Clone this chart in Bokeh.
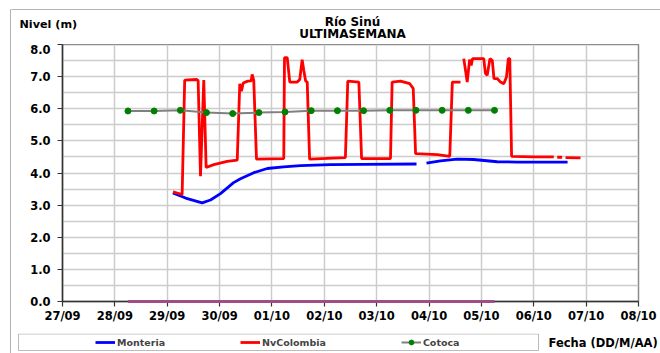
import numpy as np
import pandas as pd
from bokeh.plotting import figure
from bokeh.layouts import row, column
from bokeh.models import (Range1d, FixedTicker, Label, Legend, LegendItem,
                          BoxAnnotation, ColumnDataSource)
from bokeh.embed import file_html
from bokeh.resources import INLINE

YEAR = "2011"

# Nivel (m) - estación Montería
monteria_time = [
    "09-29 02:35", "09-29 08:25", "09-29 16:00", "09-29 19:50", "09-30 00:25",
    "09-30 06:25", "09-30 09:35", "09-30 15:40", "09-30 21:50", "10-01 05:20",
    "10-01 13:05", "10-02 02:50", "10-02 18:00", "10-03 18:15", "10-03 20:30",
    "10-03 22:50", "10-04 05:15", "10-04 12:55", "10-04 20:25", "10-05 07:15",
    "10-05 16:25", "10-06 15:30",
]
monteria_level = [
    3.38, 3.22, 3.07, 3.16, 3.36,
    3.70, 3.82, 4.01, 4.14, 4.19,
    4.23, 4.26, 4.27, 4.28, np.nan,
    4.31, 4.38, 4.43, 4.42, 4.35,
    4.34, 4.34,
]

# Nivel (m) - estación NvColombia
nvcolombia_time = [
    "09-29 02:40", "09-29 06:50", "09-29 08:00", "09-29 13:25", "09-29 14:10",
    "09-29 15:15", "09-29 16:45", "09-29 17:50", "09-29 21:20", "09-30 03:30",
    "09-30 08:05", "09-30 09:15", "09-30 10:00", "09-30 10:50", "09-30 12:55",
    "09-30 14:30", "09-30 14:55", "09-30 15:40", "09-30 16:55", "10-01 05:25",
    "10-01 05:45", "10-01 07:00", "10-01 08:10", "10-01 11:35", "10-01 12:45",
    "10-01 13:50", "10-01 14:35", "10-01 15:25", "10-01 16:10", "10-01 17:15",
    "10-02 09:40", "10-02 10:45", "10-02 15:50", "10-02 17:05", "10-03 06:20",
    "10-03 07:05", "10-03 10:55", "10-03 15:10", "10-03 16:45", "10-03 17:50",
    "10-04 03:50", "10-04 09:30", "10-04 10:40", "10-04 14:25", "10-04 15:10",
    "10-04 15:55", "10-04 17:30", "10-04 18:35", "10-04 19:20", "10-04 19:55",
    "10-05 01:05", "10-05 01:50", "10-05 02:40", "10-05 03:55", "10-05 05:00",
    "10-05 05:45", "10-05 07:15", "10-05 08:45", "10-05 10:15", "10-05 11:30",
    "10-05 12:20", "10-05 13:00", "10-05 13:50", "10-06 00:00", "10-06 09:10",
    "10-06 10:00", "10-06 10:45", "10-06 13:00", "10-06 13:45", "10-06 14:35",
    "10-06 21:25",
]
nvcolombia_level = [
    3.41, 3.33, 6.89, 6.91, 6.88,
    3.90, 6.89, 4.17, 4.26, 4.36,
    4.40, 6.78, 6.55, 6.80, 6.86,
    6.87, 7.07, 6.88, 4.43, 4.45,
    7.59, 7.59, 6.83, 6.83, 6.91,
    7.53, 7.20, 6.87, 6.83, 4.43,
    4.48, 6.86, 6.83, 4.45, 4.45,
    6.83, 6.86, 6.78, 6.63, 4.60,
    4.57, 4.52, 6.83, 6.83, np.nan,
    7.56, 6.83, 7.53, 7.35, 7.56,
    7.56, 7.10, 7.04, 7.56, 7.50,
    6.94, 6.94, 6.83, 6.78, 6.99,
    7.56, 7.56, 4.52, 4.50, 4.50,
    np.nan, 4.49, 4.49, np.nan, 4.48,
    4.47,
]

# Nivel (m) - estación Cotoca (cada 12 horas)
cotoca_time = [
    "09-28 06:00", "09-28 18:00", "09-29 06:00", "09-29 18:00", "09-30 06:00",
    "09-30 18:00", "10-01 06:00", "10-01 18:00", "10-02 06:00", "10-02 18:00",
    "10-03 06:00", "10-03 18:00", "10-04 06:00", "10-04 18:00", "10-05 06:00",
]
cotoca_level = [
    5.93, 5.93, 5.95, 5.88, 5.85,
    5.88, 5.90, 5.94, 5.94, 5.94,
    5.95, 5.95, 5.95, 5.95, 5.95,
]
# serie auxiliar en cero
serie_cero = [0.0] * 15

x_tick_dates = ["09-27", "09-28", "09-29", "09-30", "10-01", "10-02",
                "10-03", "10-04", "10-05", "10-06", "10-07", "10-08"]
x_tick_labels = ["27/09", "28/09", "29/09", "30/09", "01/10", "02/10",
                 "03/10", "04/10", "05/10", "06/10", "07/10", "08/10"]
y_ticks = [0, 1, 2, 3, 4, 5, 6, 7, 8]
y_tick_labels = ["0.0", "1.0", "2.0", "3.0", "4.0", "5.0", "6.0", "7.0", "8.0"]


def to_dt(items):
    return pd.to_datetime([f"{YEAR}-{s}" for s in items])


def to_ms(items):
    return [float(t.timestamp() * 1000.0) for t in to_dt(items)]


FONT = "DejaVu Sans"
GRID = "#cccccc"
RED, BLUE, GRAY, GREEN, PLUM = "#ff0000", "#0000ff", "#808080", "#008000", "#a04c88"
STRIP_W = 11          # left margin strip holding the chart border
INNER_W = 660 - STRIP_W
HEAD_H, MAIN_H, FOOT_H = 44, 289, 20


def blank(width, height):
    """Figure without axes whose frame fills the whole canvas."""
    f = figure(width=width, height=height, output_backend="svg",
               toolbar_location=None, x_axis_location=None,
               y_axis_location=None, min_border=0,
               x_range=Range1d(0, width), y_range=Range1d(0, height))
    f.frame_align = False
    f.grid.visible = False
    f.outline_line_color = None
    f.background_fill_color = "white"
    f.border_fill_color = "white"
    return f


def text(fig, x, y, txt, size, align="left"):
    fig.add_layout(Label(x=x, y=y, x_units="screen", y_units="screen",
                         text=txt, text_font=FONT, text_font_style="bold",
                         text_font_size=size, text_align=align,
                         text_baseline="middle", text_color="black"))


def frame_box(fig, left, right, top, bottom, color="black"):
    fig.add_layout(BoxAnnotation(left=left, right=right, top=top,
                                 bottom=bottom, left_units="screen",
                                 right_units="screen", top_units="screen",
                                 bottom_units="screen", fill_alpha=0,
                                 line_color=color, line_width=1))


# ---- left strip with the outer border line
strip = blank(STRIP_W, 353)
frame_box(strip, 10, 100, 344, -20)

# ---- header: titles and axis caption
head = blank(INNER_W, HEAD_H)
frame_box(head, -20, 800, 35, -20)
text(head, 8, 20, "Nivel (m)", "11.2px")
text(head, 341, 23, "Río Sinú", "12px", "center")
text(head, 341, 11, "ULTIMASEMANA", "12px", "center")

# ---- main chart
x_ms = to_ms(x_tick_dates)
p = figure(width=INNER_W, height=MAIN_H, x_axis_type="datetime",
           output_backend="svg", toolbar_location=None,
           min_border_left=51, min_border_right=22,
           min_border_top=0, min_border_bottom=MAIN_H - 257,
           x_range=Range1d(x_ms[0], x_ms[-1]), y_range=Range1d(0, 8))
p.frame_align = False
p.background_fill_color = "white"
p.border_fill_color = "white"
p.outline_line_color = "#8c8c8c"
p.outline_line_width = 1.5

p.xaxis.ticker = FixedTicker(ticks=x_ms)
p.xaxis.major_label_overrides = dict(zip(x_ms, x_tick_labels))
p.yaxis.ticker = FixedTicker(ticks=y_ticks,
                             minor_ticks=[v + 0.5 for v in y_ticks[:-1]])
p.yaxis.major_label_overrides = dict(zip(y_ticks, y_tick_labels))
for ax in (p.xaxis, p.yaxis):
    ax.axis_line_color = "#333333"
    ax.axis_line_width = 1.5
    ax.major_tick_line_color = "#333333"
    ax.major_tick_line_width = 1.2
    ax.major_tick_in = 0
    ax.major_tick_out = 5
    ax.minor_tick_line_color = None
    ax.major_label_text_font = FONT
    ax.major_label_text_font_style = "bold"
    ax.major_label_text_font_size = "11.5px"
    ax.major_label_text_color = "black"
p.xaxis.major_label_standoff = 2
p.yaxis.major_label_standoff = 7

p.xgrid.grid_line_color = GRID
p.xgrid.grid_line_width = 1.5
p.ygrid.grid_line_color = GRID
p.ygrid.grid_line_width = 1.5
p.ygrid.minor_grid_line_color = GRID
p.ygrid.minor_grid_line_width = 1.5

src_m = ColumnDataSource(dict(t=to_dt(monteria_time), v=monteria_level))
src_n = ColumnDataSource(dict(t=to_dt(nvcolombia_time), v=nvcolombia_level))
src_c = ColumnDataSource(dict(t=to_dt(cotoca_time), v=cotoca_level,
                              z=serie_cero))

# series in stacking order: Montería, NvColombia, Cotoca on top
p.line("t", "v", source=src_m, line_color=BLUE, line_width=2.8)
p.line("t", "v", source=src_n, line_color=RED, line_width=2.8)
p.line("t", "v", source=src_c, line_color=GRAY, line_width=2)
p.scatter("t", "v", source=src_c, size=6, fill_color=GREEN, line_color=GREEN)
# zero series sits on the x axis, so draw it above the axis line
p.line("t", "z", source=src_c, line_color=PLUM, line_width=3,
       level="overlay")

# ---- footer: legend strip and x caption
foot = blank(INNER_W, FOOT_H)
off = [-50.0, -40.0]
k_m = foot.line(off, off, line_color=BLUE, line_width=2.8)
k_n = foot.line(off, off, line_color=RED, line_width=2.8)
k_cl = foot.line(off, off, line_color=GRAY, line_width=2)
k_cs = foot.scatter(off, off, size=6, fill_color=GREEN, line_color=GREEN)

legend = Legend(items=[
    LegendItem(label="Monteria", renderers=[k_m]),
    LegendItem(label="NvColombia", renderers=[k_n]),
    LegendItem(label="Cotoca", renderers=[k_cl, k_cs]),
], orientation="horizontal", location=(82, 3), spacing=75,
    glyph_width=20, glyph_height=12, label_height=12, label_standoff=2,
    padding=2, margin=0, border_line_alpha=0, background_fill_alpha=0,
    label_text_font=FONT, label_text_font_style="bold",
    label_text_font_size="9.5px")
foot.add_layout(legend, "center")
frame_box(foot, 7, 527, 19.5, 3, "#222222")
text(foot, 537, 11, "Fecha (DD/M/AA)", "11.5px")

layout = row(strip, column(head, p, foot, spacing=0), spacing=0)

open("out.html", "w").write(file_html(layout, INLINE))
